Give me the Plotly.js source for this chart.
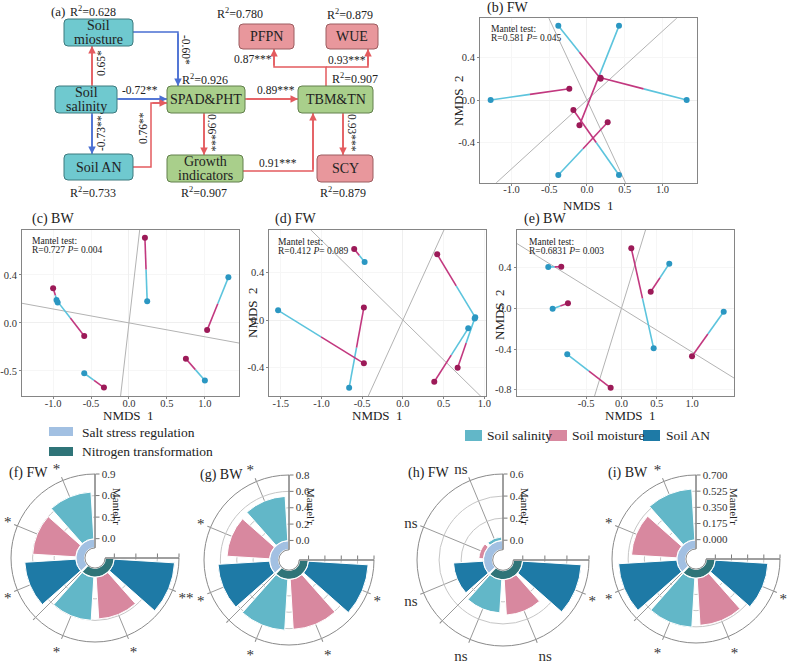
<!DOCTYPE html>
<html><head><meta charset="utf-8">
<script src="https://cdn.plot.ly/plotly-3.0.1.min.js"></script>
<style>html,body{margin:0;padding:0;background:#fff}#chart{width:791px;height:663px}</style>
</head><body><div id="chart"></div>
<script>
// ---------------- DATA ----------------
// (a) path diagram
const nodeNames = ['Soil<br>miosture','Soil<br>salinity','Soil AN','SPAD&PHT','Growth<br>indicators','TBM&TN','PFPN','WUE','SCY'];
const nodeR2 = ['0.628', null, '0.733', '0.926', '0.907', '0.907', '0.780', '0.879', '0.879'];
const nodeGroup = ['soil','soil','soil','plant','plant','plant','yield','yield','yield'];
const pathLabels = ['0.65*','-0.73**','-0.72**','-0.60*','0.76**','0.96***','0.89***','0.91***','0.93***','0.87***','0.93***'];
const pathSign = ['+','-','-','-','+','+','+','+','+','+','+'];

// (b)-(e) Procrustes analyses
const b_cyanX = [-0.38, 0.424, -1.276, 1.32, -0.38, 0.424];
const b_cyanY = [0.70, 0.70, 0.0, 0.0, -0.708, -0.708];
const b_magX  = [0.18, -0.10, -0.234, 0.18, 0.274, -0.18];
const b_magY  = [0.20, -0.239, 0.107, 0.21, -0.21, -0.094];
const b_rot   = [0.65, -1.53];
const b_stat  = ['0.581', '0.045'];

const c_cyanX = [-0.94, -0.955, 0.24, 1.31, 1.0, -0.59];
const c_cyanY = [0.17, 0.19, 0.18, 0.38, -0.48, -0.42];
const c_magX  = [-1.00, -0.59, 0.21, 1.03, 0.75, -0.33];
const c_magY  = [0.29, -0.11, 0.71, -0.06, -0.30, -0.54];
const c_rot   = [-0.116, 5.5];
const c_stat  = ['0.727', '0.004'];

const d_cyanX = [-0.47, -1.532, -0.66, 0.888, 0.881, 0.802];
const d_cyanY = [0.49, 0.082, -0.572, 0.023, 0.014, -0.07];
const d_magX  = [-0.598, -0.479, -0.479, 0.421, 0.672, 0.385];
const d_magY  = [0.60, -0.366, 0.107, 0.555, -0.403, -0.522];
const d_rot   = [-0.674, 1.51];
const d_stat  = ['0.412', '0.089'];

const e_cyanX = [-1.037, -0.975, -0.768, 0.456, 0.677, 1.448];
const e_cyanY = [0.406, -0.004, -0.452, -0.393, 0.439, -0.033];
const e_magX  = [-0.853, -0.758, -0.153, 0.139, 0.414, 0.999];
const e_magY  = [0.409, 0.049, -0.781, 0.59, 0.163, -0.472];
const e_rot   = [-0.43, 2.26];
const e_stat  = ['0.6831', '0.003'];

// tick labels
const b_xt = ['-1.0','-0.5','0.0','0.5','1.0'], b_xv = [-1,-0.5,0,0.5,1];
const b_yt = ['-0.4','0.0','0.4'], b_yv = [-0.4,0,0.4];
const c_xt = ['-1.0','-0.5','0.0','0.5','1.0'], c_xv = [-1,-0.5,0,0.5,1];
const c_yt = ['-0.5','0.0','0.4'], c_yv = [-0.4,0,0.4];
const d_xt = ['-1.5','-1.0','-0.5','0.0','0.5','1.0'], d_xv = [-1.5,-1,-0.5,0,0.5,1];
const d_yt = ['-0.4','0.0','0.4'], d_yv = [-0.4,0,0.4];
const e_xt = ['-0.5','0.0','0.5','1.0'], e_xv = [-0.5,0,0.5,1];
const e_yt = ['-0.8','-0.4','0.0','0.4'], e_yv = [-0.8,-0.4,0,0.4];

// (f)-(i) Mantel r polar bars
const factors = ['Soil salinity','Soil moisture','Soil AN'];
const groups = ['Salt stress regulation','Nitrogen transformation'];
const f_r = [0.65, 0.60, 0.71, 0.60, 0.58, 0.84];
const f_sig = ['*','*','*','*','*','**'];
const g_r = [0.54, 0.52, 0.63, 0.62, 0.61, 0.73];
const g_sig = ['*','*','*','*','*','*'];
const h_r = [0.03, 0.04, 0.27, 0.30, 0.32, 0.53];
const h_sig = ['ns','ns','ns','ns','ns','*'];
const i_r = [0.55, 0.49, 0.63, 0.53, 0.51, 0.57];
const i_sig = ['*','*','*','*','*','*'];
const f_tv = [0,0.3,0.6,0.9], f_tt = ['0.0','0.3','0.6','0.9'];
const g_tv = [0,0.2,0.4,0.6,0.8], g_tt = ['0.0','0.2','0.4','0.6','0.8'];
const h_tv = [0,0.2,0.4,0.6], h_tt = ['0.0','0.2','0.4','0.6'];
const i_tv = [0,0.175,0.35,0.525,0.7], i_tt = ['0.000','0.175','0.350','0.525','0.700'];

// ---------------- LAYOUT / STYLE ----------------
const W = 791, H = 663;
const FONT = '"Liberation Serif","Times New Roman",serif';
const px = x => x / W, py = y => 1 - y / H;
const data = [];
const shapes = [];
const ann = [];
const layout = {width:W, height:H, margin:{l:0,r:0,t:0,b:0}, paper_bgcolor:'#fff', plot_bgcolor:'#fff', showlegend:false, font:{family:FONT,color:'#222'}};

function txt(x, y, text, size, opt){
  ann.push(Object.assign({xref:'paper', yref:'paper', x:px(x), y:py(y), text:text, showarrow:false,
    xanchor:'left', yanchor:'middle', font:{family:FONT, size:size, color:'#222'}}, opt||{}));
}

// ----- (a) diagram -----
const nodeBox = [[64,19,133,46],[55,86,117,113],[64,154,133,180],[167,86,245,113],[167,155,243,182],[298,86,373,113],[239,24,294,49],[326,24,378,49],[317,155,373,182]];
const r2Pos = [[93,11],null,[93,192],[205,79],[204,192],[355,78],[240,13],[350,14],[343,192]];
const groupFill = {soil:'#6fc9cf', plant:'#a9cf8b', yield:'#e8979c'};
const groupLine = {soil:'#3d7a7e', plant:'#62804c', yield:'#9c5d60'};
const routes = [
  [[92,86],[92,46]],
  [[92,113],[92,154]],
  [[117,99],[167,99]],
  [[133,32],[178,32],[178,86]],
  [[133,167],[151,167],[151,103],[167,103]],
  [[204,113],[204,155]],
  [[245,99],[298,99]],
  [[243,171],[313,171],[313,113]],
  [[343,113],[343,155]],
  [[326,86],[326,67],[274,67],[274,49]],
  [[326,67],[368,67],[368,49]]
];
const labelAt = [[101,63,-90],[101,133,-90],[140,90,0],[186,50,90],[143,128,-90],[212,133,90],[276,90,0],[278,163,0],[352,133,90],[253,59,0],[347,60,0]];

layout.xaxis5 = {domain:[0, 460/W], range:[0,460], visible:false, fixedrange:true};
layout.yaxis5 = {domain:[1-200/H, 1], range:[200,0], visible:false, fixedrange:true};
data.push({type:'scatter', x:[], y:[], xaxis:'x5', yaxis:'y5', hoverinfo:'skip'});

function rr(x0,y0,x1,y1,r){
  return `M${x0+r},${y0} L${x1-r},${y0} Q${x1},${y0} ${x1},${y0+r} L${x1},${y1-r} Q${x1},${y1} ${x1-r},${y1} L${x0+r},${y1} Q${x0},${y1} ${x0},${y1-r} L${x0},${y0+r} Q${x0},${y0} ${x0+r},${y0} Z`;
}
routes.forEach((rt, i) => {
  const col = pathSign[i] === '+' ? '#e35b5f' : '#4a6fd2';
  shapes.push({type:'path', xref:'x5', yref:'y5', path:'M' + rt.map(p => p[0]+','+p[1]).join(' L'), line:{color:col, width:1.5}});
  const h = rt[rt.length-1], t = rt[rt.length-2];
  ann.push({xref:'x5', yref:'y5', axref:'x5', ayref:'y5', x:h[0], y:h[1], ax:t[0], ay:t[1], text:'', showarrow:true,
    arrowhead:2, arrowsize:1, arrowwidth:1.5, arrowcolor:col, standoff:0, startstandoff:0});
  const L = labelAt[i];
  ann.push({xref:'x5', yref:'y5', x:L[0], y:L[1], text:pathLabels[i], showarrow:false, textangle:L[2],
    font:{family:FONT, size:11.5, color:'#222'}});
});
nodeNames.forEach((nm, i) => {
  const b = nodeBox[i], g = nodeGroup[i];
  shapes.push({type:'path', xref:'x5', yref:'y5', path:rr(b[0],b[1],b[2],b[3],4), fillcolor:groupFill[g], line:{color:groupLine[g], width:1}});
  const lines = nm.split('<br>');
  const cy = (b[1]+b[3])/2, cx = (b[0]+b[2])/2;
  lines.forEach((ln, j) => {
    ann.push({xref:'x5', yref:'y5', x:cx, y:cy + (j - (lines.length-1)/2)*13.5, text:ln, showarrow:false,
      font:{family:FONT, size:14, color:'#222'}});
  });
  if (nodeR2[i]) {
    ann.push({xref:'x5', yref:'y5', x:r2Pos[i][0], y:r2Pos[i][1], text:'R<sup>2</sup>=' + nodeR2[i], showarrow:false,
      font:{family:FONT, size:12, color:'#222'}});
  }
});
txt(49, 11, '(a)', 13);

// ----- (b)-(e) Procrustes -----
function cartAxis(dom, range, tv, tt, extra){
  return Object.assign({domain:dom, range:range, tickmode:'array', tickvals:tv, ticktext:tt,
    showline:true, mirror:true, linecolor:'#858585', linewidth:1, ticks:'outside', ticklen:2, tickcolor:'#858585',
    tickfont:{family:FONT, size:10.5, color:'#333'}, showgrid:true, gridcolor:'#f6f6f6', zeroline:true,
    zerolinecolor:'#efefef', zerolinewidth:1, fixedrange:true}, extra||{});
}
function procrustes(n, cx, cy, mx, my, rot){
  const xa = n===1 ? 'x' : 'x'+n, ya = n===1 ? 'y' : 'y'+n;
  const lx=[], ly=[];
  rot.forEach(s => { lx.push(-6, 6, null); ly.push(-6*s, 6*s, null); });
  data.push({type:'scatter', mode:'lines', x:lx, y:ly, xaxis:xa, yaxis:ya, line:{color:'#b3b3b3', width:1}, hoverinfo:'skip'});
  const sx=[], sy=[], tx=[], ty=[];
  for (let i=0;i<cx.length;i++){
    const mxm = (cx[i]+mx[i])/2, mym = (cy[i]+my[i])/2;
    sx.push(cx[i], mxm, null); sy.push(cy[i], mym, null);
    tx.push(mxm, mx[i], null); ty.push(mym, my[i], null);
  }
  data.push({type:'scatter', mode:'lines', x:sx, y:sy, xaxis:xa, yaxis:ya, line:{color:'#5cc4dd', width:1.6}, hoverinfo:'skip'});
  data.push({type:'scatter', mode:'lines', x:tx, y:ty, xaxis:xa, yaxis:ya, line:{color:'#c2387f', width:1.6}, hoverinfo:'skip'});
  data.push({type:'scatter', mode:'markers', x:cx, y:cy, xaxis:xa, yaxis:ya, marker:{color:'#2b97c2', size:6}, hoverinfo:'skip'});
  data.push({type:'scatter', mode:'markers', x:mx, y:my, xaxis:xa, yaxis:ya, marker:{color:'#9c1a58', size:6}, hoverinfo:'skip'});
}
procrustes(1, b_cyanX, b_cyanY, b_magX, b_magY, b_rot);
procrustes(2, c_cyanX, c_cyanY, c_magX, c_magY, c_rot);
procrustes(3, d_cyanX, d_cyanY, d_magX, d_magY, d_rot);
procrustes(4, e_cyanX, e_cyanY, e_magX, e_magY, e_rot);

const xExtra = {ticklabelstandoff:-5};
layout.xaxis  = cartAxis([px(480), px(697)], [-1.417, 1.457], b_xv, b_xt, Object.assign({anchor:'y'}, xExtra));
layout.yaxis  = cartAxis([py(182.7), py(18.3)], [-0.78, 0.771], b_yv, b_yt, {anchor:'x'});
layout.xaxis2 = cartAxis([px(22), px(239)], [-1.41, 1.45], c_xv, c_xt, Object.assign({anchor:'y2'}, xExtra));
layout.yaxis2 = cartAxis([py(396), py(230)], [-0.61, 0.775], c_yv, c_yt, {anchor:'x2'});
layout.xaxis3 = cartAxis([px(269.3), px(486)], [-1.64, 1.02], d_xv, d_xt, Object.assign({anchor:'y3'}, xExtra));
layout.yaxis3 = cartAxis([py(396), py(230)], [-0.642, 0.761], d_yv, d_yt, {anchor:'x3'});
layout.xaxis4 = cartAxis([px(516.7), px(734.3)], [-1.484, 1.598], e_xv, e_xt, Object.assign({anchor:'y4'}, xExtra));
layout.yaxis4 = cartAxis([py(396), py(230)], [-0.862, 0.77], e_yv, e_yt, {anchor:'x4'});

const mantel = [[b_stat,489,29],[c_stat,30,241],[d_stat,276,242],[e_stat,527,242]];
mantel.forEach(m => {
  txt(m[1], m[2], 'Mantel test:', 9.5);
  txt(m[1], m[2]+9, 'R=' + m[0][0] + ' <i>P</i>= ' + m[0][1], 9.5);
});
txt(485, 8, '(b) FW', 14);
txt(30, 219, '(c) BW', 14);
txt(273, 219, '(d) FW', 14);
txt(522, 219, '(e) BW', 14);
txt(588, 205, 'NMDS  1', 13, {xanchor:'center'});
txt(128, 415, 'NMDS  1', 13, {xanchor:'center'});
txt(377, 415, 'NMDS  1', 13, {xanchor:'center'});
txt(630, 415, 'NMDS  1', 13, {xanchor:'center'});
txt(458, 101, 'NMDS  2', 13, {xanchor:'center', textangle:-90});
txt(252, 313, 'NMDS  2', 13, {xanchor:'center', textangle:-90});
txt(499, 315, 'NMDS  2', 13, {xanchor:'center', textangle:-90});

// ----- legends -----
const groupColors = ['#a2c0e2', '#2f7478'];
const factorColors = ['#62b7c8', '#d8889f', '#1e7aa6'];
shapes.push({type:'rect', xref:'paper', yref:'paper', x0:px(49), x1:px(73), y0:py(436), y1:py(427), fillcolor:groupColors[0], line:{width:0}});
shapes.push({type:'rect', xref:'paper', yref:'paper', x0:px(49), x1:px(73), y0:py(456), y1:py(447), fillcolor:groupColors[1], line:{width:0}});
txt(80, 432, groups[0], 13.5);
txt(80, 451, groups[1], 13.5);
const legX = [[465,482,485],[549,567,570],[643,660,664]];
factors.forEach((f, i) => {
  shapes.push({type:'rect', xref:'paper', yref:'paper', x0:px(legX[i][0]), x1:px(legX[i][1]), y0:py(441), y1:py(430), fillcolor:factorColors[i], line:{width:0}});
  txt(legX[i][2], 435.5, f, 13.5);
});

// ----- (f)-(i) polar -----
const centers = [112.5, 157.5, 202.5, 247.5, 292.5, 337.5];
function addPolar(n, ov, dom, vals, sig, maxR, tv, tt){
  const k = 0.143 * maxR;
  const sp = n===1 ? 'polar' : 'polar'+n, so = 'polar'+ov;
  data.push({type:'barpolar', subplot:sp, r:[k], base:[-k], theta:[157.5], width:[133], marker:{color:groupColors[0], line:{color:'#fff', width:1.5}}, hoverinfo:'skip'});
  data.push({type:'barpolar', subplot:sp, r:[k], base:[-k], theta:[292.5], width:[133], marker:{color:groupColors[1], line:{color:'#fff', width:1.5}}, hoverinfo:'skip'});
  for (let f=0; f<3; f++){
    data.push({type:'barpolar', subplot:sp, r:[vals[f], vals[f+3]], theta:[centers[f], centers[f+3]], width:[38,38],
      marker:{color:factorColors[f], line:{color:'#fff', width:1}}, hoverinfo:'skip'});
  }
  data.push({type:'scatterpolar', subplot:so, r:[0], theta:[0], mode:'markers', marker:{size:1, opacity:0}, hoverinfo:'skip'});
  const domain = {x:[px(dom[0]), px(dom[2])], y:[py(dom[3]), py(dom[1])]};
  layout[sp] = {domain:domain, sector:[90,360], hole:0.12, bgcolor:'rgba(0,0,0,0)',
    radialaxis:{range:[-k, maxR], angle:90, tickangle:90, side:'clockwise', tickmode:'array', tickvals:tv, ticktext:tt,
      showline:true, linecolor:'#7a7a7a', linewidth:1, ticks:'outside', ticklen:4, tickcolor:'#7a7a7a',
      showgrid:true, gridcolor:'#c6c6c6', gridwidth:1, tickfont:{family:FONT, size:11, color:'#333'}},
    angularaxis:{direction:'counterclockwise', rotation:0, tickmode:'array', tickvals:centers.concat([225]), ticktext:sig.concat([' ']),
      showline:true, linecolor:'#8a8a8a', linewidth:1, showgrid:true, gridcolor:'#9a9a9a', gridwidth:1,
      ticks:'outside', ticklen:3, tickcolor:'#8a8a8a', tickfont:{family:FONT, size:15, color:'#333'}}};
  layout[so] = {domain:domain, sector:[90,360], hole:0.12, bgcolor:'rgba(0,0,0,0)',
    radialaxis:{range:[-k, maxR], angle:0, side:'counterclockwise', tickmode:'array', tickvals:tv, showticklabels:false,
      showline:true, linecolor:'#7a7a7a', linewidth:1, ticks:'outside', ticklen:4, tickcolor:'#7a7a7a', showgrid:false},
    angularaxis:{visible:false, direction:'counterclockwise', rotation:0}};
}
addPolar(1, 5, [11,474,179,642], f_r, f_sig, 0.9, f_tv, f_tt);
addPolar(2, 6, [204,475,374,645], g_r, g_sig, 0.8, g_tv, g_tt);
addPolar(3, 7, [417,474,589,646], h_r, h_sig, 0.6, h_tv, h_tt);
addPolar(4, 8, [612,475,780,643], i_r, i_sig, 0.7, i_tv, i_tt);

txt(7, 473, '(f) FW', 14);
txt(198, 475, '(g) BW', 14);
txt(406, 473, '(h) FW', 14);
txt(606, 473, '(i) BW', 14);
txt(117, 506, "Mantel'r", 11, {xanchor:'center', textangle:90});
txt(311, 506, "Mantel'r", 11, {xanchor:'center', textangle:90});
txt(525, 506, "Mantel'r", 11, {xanchor:'center', textangle:90});
txt(734, 506, "Mantel'r", 11, {xanchor:'center', textangle:90});

layout.shapes = shapes;
layout.annotations = ann;
Plotly.newPlot('chart', data, layout, {staticPlot:true, displayModeBar:false});
</script>
</body></html>
